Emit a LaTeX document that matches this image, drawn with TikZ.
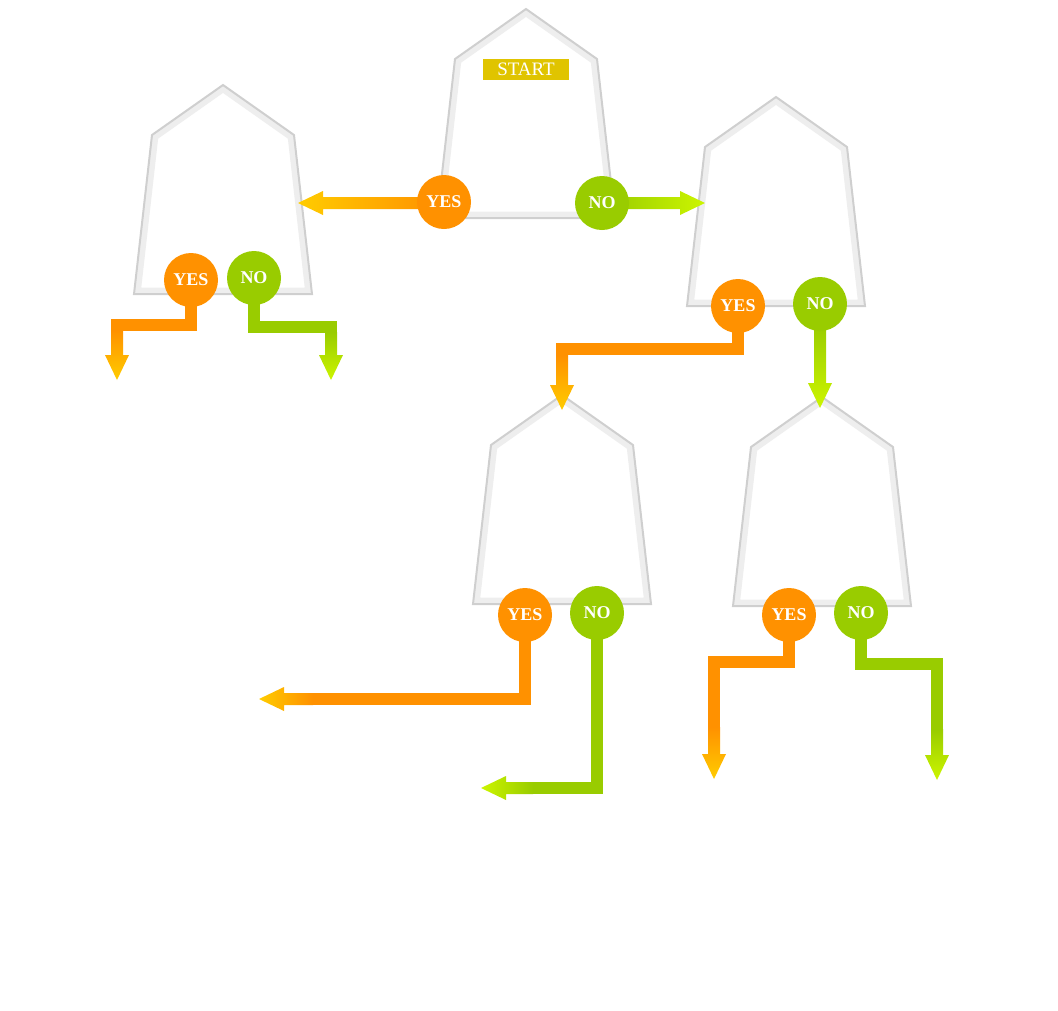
\documentclass[tikz,border=0pt]{standalone}
\usepackage{fontspec}
\setmainfont{Liberation Serif}
\usetikzlibrary{calc}
\definecolor{yesc}{HTML}{FF9100}
\definecolor{yest}{HTML}{FFCC00}
\definecolor{noc}{HTML}{99CC00}
\definecolor{nolime}{HTML}{CCF500}
\definecolor{startc}{HTML}{E0C400}
\definecolor{edgec}{HTML}{CFCFCF}
\definecolor{bandc}{HTML}{EEEEEE}
\tikzset{
  house/.pic={
    \fill[white] (0,0) -- (-71,50) -- (-89,209) -- (89,209) -- (71,50) -- cycle;
    \begin{scope}
      \clip (0,0) -- (-71,50) -- (-89,209) -- (89,209) -- (71,50) -- cycle;
      \draw[line width=13pt, bandc] (0,0) -- (-71,50) -- (-89,209) -- (89,209) -- (71,50) -- cycle;
    \end{scope}
    \draw[line width=2pt, edgec, line join=miter] (0,0) -- (-71,50) -- (-89,209) -- (89,209) -- (71,50) -- cycle;
  },
  yesnode/.style={circle, fill=yesc, minimum size=54pt, inner sep=0pt, text=white, font=\fontsize{18}{18}\selectfont\bfseries},
  nonode/.style={circle, fill=noc, minimum size=54pt, inner sep=0pt, text=white, font=\fontsize{18}{18}\selectfont\bfseries},
  yesline/.style={draw=yesc, line width=12pt, line join=miter},
  noline/.style={draw=noc, line width=12pt, line join=miter},
  startbox/.style={fill=startc, text=white, minimum width=86pt, minimum height=21pt, inner sep=0pt, font=\fontsize{19}{19}\selectfont}
}
% #1 gradient start, #2 tip, #3 base colour, #4 tip colour
\newcommand\headdown[4]{\shade[top color=#3, bottom color=#4] ($(#1)+(-6,-1)$) -- ($(#1)+(6,-1)$) -- ($(#2)+(6,-25)$) -- ($(#2)+(12,-25)$) -- (#2) -- ($(#2)+(-12,-25)$) -- ($(#2)+(-6,-25)$) -- cycle;}
\newcommand\headleft[4]{\shade[left color=#4, right color=#3] ($(#1)+(1,-6)$) -- ($(#2)+(25,-6)$) -- ($(#2)+(25,-12)$) -- (#2) -- ($(#2)+(25,12)$) -- ($(#2)+(25,6)$) -- ($(#1)+(1,6)$) -- cycle;}
\newcommand\headright[4]{\shade[left color=#3, right color=#4] ($(#1)+(-1,-6)$) -- ($(#2)+(-25,-6)$) -- ($(#2)+(-25,-12)$) -- (#2) -- ($(#2)+(-25,12)$) -- ($(#2)+(-25,6)$) -- ($(#1)+(-1,6)$) -- cycle;}
\begin{document}
\begin{tikzpicture}[x=1pt, y=-1pt]
\useasboundingbox (0,0) rectangle (1058,1010);
% decision shapes
\pic (h1) at (526,9) {house};
\pic (h2) at (223,85) {house};
\pic (h3) at (776,97) {house};
\pic (h4) at (562,395) {house};
\pic (h5) at (822,397) {house};
\node[startbox] (start) at (526,69) {START};
% circles positions
\coordinate (cy1) at (444,202);  \coordinate (cn1) at (602,203);
\coordinate (cy2) at (191,280);  \coordinate (cn2) at (254,278);
\coordinate (cy3) at (738,306);  \coordinate (cn3) at (820,304);
\coordinate (cy4) at (525,615);  \coordinate (cn4) at (597,613);
\coordinate (cy5) at (789,615);  \coordinate (cn5) at (861,613);
% connector ends
\coordinate (g1y) at (440,203); \coordinate (t1y) at (298,203);
\coordinate (g1n) at (606,203); \coordinate (t1n) at (705,203);
\coordinate (g2y) at (117,331); \coordinate (t2y) at (117,380);
\coordinate (g2n) at (331,333); \coordinate (t2n) at (331,380);
\coordinate (g3y) at (562,356); \coordinate (t3y) at (562,410);
\coordinate (g3n) at (820,325); \coordinate (t3n) at (820,408);
\coordinate (g4y) at (312,699); \coordinate (t4y) at (259,699);
\coordinate (g4n) at (532,788); \coordinate (t4n) at (481,788);
\coordinate (g5y) at (714,728); \coordinate (t5y) at (714,779);
\coordinate (g5n) at (937,730); \coordinate (t5n) at (937,780);
% connectors
\headleft{g1y}{t1y}{yesc}{yest}
\headright{g1n}{t1n}{noc}{nolime}
\draw[yesline] (cy2) -- ++(0,45) -| (g2y);
\headdown{g2y}{t2y}{yesc}{yest}
\draw[noline] (cn2) -- ++(0,49) -| (g2n);
\headdown{g2n}{t2n}{noc}{nolime}
\draw[yesline] (cy3) -- ++(0,43) -| (g3y);
\headdown{g3y}{t3y}{yesc}{yest}
\draw[noline] (cn3) -- (g3n);
\headdown{g3n}{t3n}{noc}{nolime}
\draw[yesline] (cy4) |- (g4y);
\headleft{g4y}{t4y}{yesc}{yest}
\draw[noline] (cn4) |- (g4n);
\headleft{g4n}{t4n}{noc}{nolime}
\draw[yesline] (cy5) -- ++(0,47) -| (g5y);
\headdown{g5y}{t5y}{yesc}{yest}
\draw[noline] (cn5) -- ++(0,51) -| (g5n);
\headdown{g5n}{t5n}{noc}{nolime}
% yes / no circles
\node[yesnode] (y1) at (cy1) {YES};  \node[nonode] (n1) at (cn1) {NO};
\node[yesnode] (y2) at (cy2) {YES};  \node[nonode] (n2) at (cn2) {NO};
\node[yesnode] (y3) at (cy3) {YES};  \node[nonode] (n3) at (cn3) {NO};
\node[yesnode] (y4) at (cy4) {YES};  \node[nonode] (n4) at (cn4) {NO};
\node[yesnode] (y5) at (cy5) {YES};  \node[nonode] (n5) at (cn5) {NO};
\end{tikzpicture}
\end{document}
